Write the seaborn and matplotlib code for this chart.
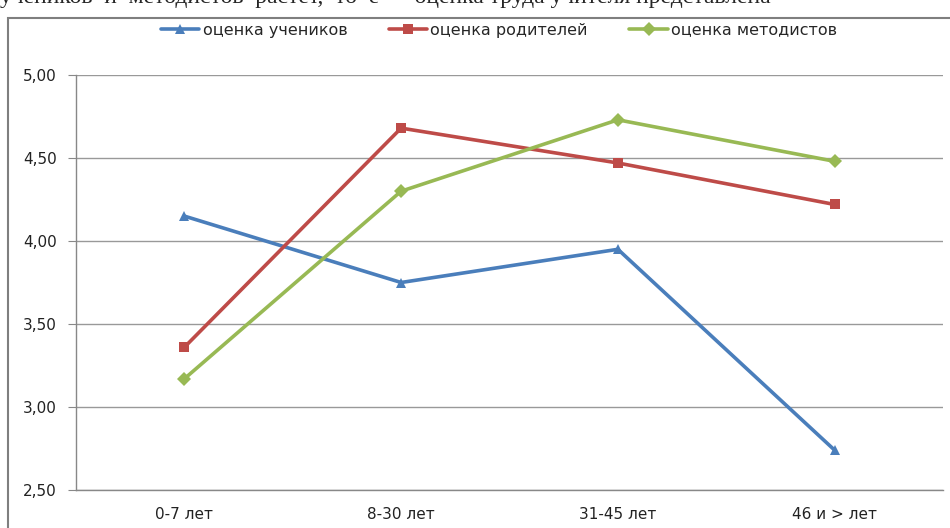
import matplotlib.pyplot as plt
import matplotlib.patches as mpatches
import seaborn as sns
import pandas as pd

categories = ["0-7 лет", "8-30 лет", "31-45 лет", "46 и > лет"]
students = [4.15, 3.75, 3.95, 2.74]
parents = [3.36, 4.68, 4.47, 4.22]
methodists = [3.17, 4.30, 4.73, 4.48]
series_names = ["оценка учеников", "оценка родителей", "оценка методистов"]
yticks = [2.5, 3.0, 3.5, 4.0, 4.5, 5.0]

colors = ["#4A7EBB", "#BE4B48", "#98B954"]
markers = ["^", "s", "D"]

rows = []
for name, vals in zip(series_names, [students, parents, methodists]):
    for i, v in enumerate(vals):
        rows.append({"pos": i, "value": v, "series": name})
df = pd.DataFrame(rows)

sns.set_style("white")
plt.rcParams["font.family"] = ["DejaVu Sans"]

fig = plt.figure(figsize=(9.5, 5.28), dpi=100)
ax = fig.add_axes([76 / 950, 1 - 490 / 528, (943 - 76) / 950, (490 - 75) / 528])

sns.lineplot(data=df, x="pos", y="value", hue="series", style="series",
             palette=dict(zip(series_names, colors)),
             markers=dict(zip(series_names, markers)), dashes=False,
             linewidth=2.6, markersize=7, markeredgewidth=0, ax=ax)

ax.set_xlim(-0.5, len(categories) - 0.5)
ax.set_ylim(2.5, 5.0)
ax.set_yticks(yticks)
ax.set_yticklabels([f"{t:.2f}".replace(".", ",") for t in yticks], fontsize=11, color="#222222")
ax.set_xticks(range(len(categories)))
ax.set_xticklabels(categories, fontsize=11, color="#222222")
ax.set_xticks([i - 0.5 for i in range(len(categories) + 1)], minor=True)
ax.tick_params(axis="x", which="major", length=0, pad=12)
ax.tick_params(axis="x", which="minor", length=6, color="#888888", direction="out")
ax.tick_params(axis="y", length=6, color="#888888", direction="out", left=True, pad=8)
ax.set_xlabel("")
ax.set_ylabel("")
ax.grid(axis="y", color="#999999", linewidth=1)
for side in ["top", "right"]:
    ax.spines[side].set_visible(False)
for side in ["left", "bottom"]:
    ax.spines[side].set_color("#888888")
    ax.spines[side].set_linewidth(1)

sns.move_legend(ax, "center", bbox_to_anchor=(499 / 950, 1 - 30 / 528),
                bbox_transform=fig.transFigure, ncol=3, frameon=False, title=None,
                fontsize=11.5, handlelength=2.4, columnspacing=2.6, handletextpad=0.2)

# chart frame
fig.patches.append(mpatches.Rectangle((8 / 950, -0.1), 1.2, 1 - 18 / 528 + 0.1,
                                      transform=fig.transFigure, fill=False,
                                      edgecolor="#7f7f7f", linewidth=1.5, clip_on=False))

# clipped line of the surrounding document text
fig.text(0.0, 1.005, "учеников  и  методистов  растет,  то  е  –  оценка труда учителя представлена",
         family=["Liberation Serif", "DejaVu Serif"], fontsize=17, va="center", ha="left")

fig.savefig("out.png", dpi=100)
